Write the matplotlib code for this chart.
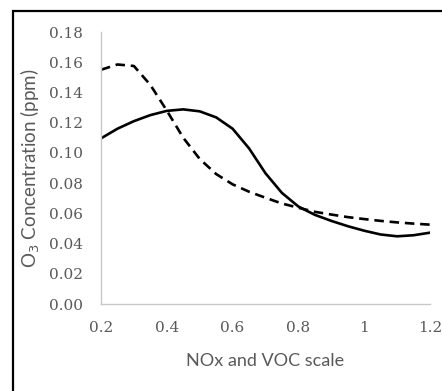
import matplotlib
matplotlib.use("Agg")
import matplotlib.pyplot as plt
import matplotlib.patches as patches

# x positions (NOx and VOC scale)
scale = [0.20, 0.25, 0.30, 0.35, 0.40, 0.45, 0.50, 0.55, 0.60, 0.65, 0.70,
         0.75, 0.80, 0.85, 0.90, 0.95, 1.00, 1.05, 1.10, 1.15, 1.20]

# solid series
o3_solid = [0.1096, 0.1160, 0.1210, 0.1250, 0.1278, 0.1288, 0.1275, 0.1235,
            0.1160, 0.1030, 0.0865, 0.0735, 0.0645, 0.0590, 0.0550, 0.0515,
            0.0485, 0.0460, 0.0448, 0.0455, 0.0472]

# dashed series
o3_dashed = [0.1550, 0.1585, 0.1575, 0.1450, 0.1280, 0.1100, 0.0960, 0.0860,
             0.0792, 0.0743, 0.0703, 0.0665, 0.0637, 0.0610, 0.0592, 0.0575,
             0.0562, 0.0550, 0.0540, 0.0532, 0.0525]

xticks = [0.2, 0.4, 0.6, 0.8, 1.0, 1.2]
xtick_labels = ['0.2', '0.4', '0.6', '0.8', '1', '1.2']
yticks = [0.00, 0.02, 0.04, 0.06, 0.08, 0.10, 0.12, 0.14, 0.16, 0.18]

grey = '#595959'

fig = plt.figure(figsize=(4.42, 3.91), dpi=100)
ax = fig.add_axes([101 / 442, 1 - 304 / 391, 329 / 442, 272 / 391])

ax.plot(scale, o3_solid, color='black', lw=1.9, solid_joinstyle='round')
ax.plot(scale, o3_dashed, color='black', lw=1.9, linestyle=(0, (3.6, 2.2)))

ax.set_xlim(0.2, 1.2)
ax.set_ylim(0, 0.18)
ax.set_xticks(xticks)
ax.set_xticklabels(xtick_labels)
ax.set_yticks(yticks)
ax.set_yticklabels(['%.2f' % v for v in yticks])

for s in ['top', 'right']:
    ax.spines[s].set_visible(False)
for s in ['left', 'bottom']:
    ax.spines[s].set_color('#c8c8c8')
    ax.spines[s].set_linewidth(1.0)

ax.tick_params(length=0, colors=grey, labelsize=11)
ax.tick_params(axis='y', pad=13)
ax.tick_params(axis='x', pad=12)
for lab in ax.get_xticklabels() + ax.get_yticklabels():
    lab.set_family('DejaVu Serif')

ax.set_xlabel('NOx and VOC scale', color=grey, fontsize=13, family='Lato', labelpad=13)
ax.set_ylabel('O$_3$ Concentration (ppm)', color=grey, fontsize=13.5, family='Lato', labelpad=5)

# outer chart border (only left and top edges visible)
fig.patches.append(patches.Rectangle((13 / 442, -0.1), 1.2, 1.1 - 11 / 391,
                                     transform=fig.transFigure, fill=False,
                                     edgecolor='black', lw=1.6))

fig.savefig('out.png', dpi=100)
